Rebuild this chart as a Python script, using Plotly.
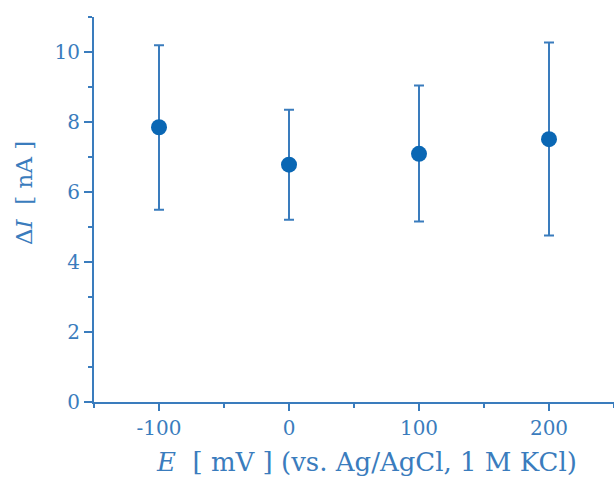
import plotly.graph_objects as go

potential_mV = [-100, 0, 100, 200]
delta_I_nA = [7.85, 6.78, 7.09, 7.51]
err_plus = [2.34, 1.57, 1.95, 2.76]
err_minus = [2.36, 1.57, 1.93, 2.75]
x_tickvals = [-100, 0, 100, 200]
x_ticktext = ["-100", "0", "100", "200"]

axis_color = "#3a7cbd"
marker_color = "#0a67b4"
font_family = "DejaVu Serif, Liberation Serif, serif"

L, R, T, B = 94, 0, 17, 78
W, H = 614, 480
pw, ph = W - L - R, H - T - B

fig = go.Figure()
fig.add_trace(go.Scatter(
    x=potential_mV, y=delta_I_nA, mode="markers",
    marker=dict(size=16, color=marker_color),
    error_y=dict(type="data", symmetric=False, array=err_plus, arrayminus=err_minus,
                 color=axis_color, thickness=2, width=5),
    showlegend=False,
))

fig.update_layout(
    width=W, height=H,
    margin=dict(l=L, r=R, t=T, b=B, autoexpand=False),
    paper_bgcolor="white", plot_bgcolor="white",
    font=dict(family=font_family, color=axis_color, size=20),
    xaxis=dict(
        range=[-150, 250], tickmode="array", tickvals=x_tickvals, ticktext=x_ticktext,
        showgrid=False, zeroline=False, showline=True, linecolor=axis_color, linewidth=2,
        ticks="outside", ticklen=7, tickwidth=2, tickcolor=axis_color, automargin=False,
        minor=dict(ticks="outside", ticklen=4, tickwidth=2, tickcolor=axis_color, dtick=50, tick0=-150, showgrid=False),
        tickfont=dict(size=20, family=font_family, color=axis_color),
    ),
    yaxis=dict(
        range=[0, 11], tickmode="linear", tick0=0, dtick=2,
        showgrid=False, zeroline=False, showline=True, linecolor=axis_color, linewidth=2,
        ticks="outside", ticklen=8, tickwidth=2, tickcolor=axis_color, automargin=False,
        minor=dict(ticks="outside", ticklen=4, tickwidth=2, tickcolor=axis_color, dtick=1, tick0=0, showgrid=False),
        tickfont=dict(size=20, family=font_family, color=axis_color),
    ),
    annotations=[
        dict(text="<i>E</i>\u00a0\u00a0[ mV ] (vs. Ag/AgCl, 1 M KCl)", xref="paper", yref="paper",
             x=(366 - L) / pw, y=-(462 - (T + ph)) / ph, xanchor="center", yanchor="middle",
             showarrow=False, font=dict(size=26, family=font_family, color=axis_color)),
        dict(text="Δ<i>I</i>\u00a0\u00a0[ nA ]", xref="paper", yref="paper", textangle=-90,
             x=(24 - L) / pw, y=((T + ph) - 193) / ph, xanchor="center", yanchor="middle",
             showarrow=False, font=dict(size=23, family=font_family, color=axis_color)),
    ],
)

fig.write_html("out.html", config={"displayModeBar": False},
               post_script="document.body.style.margin='0';document.body.style.padding='0';")
